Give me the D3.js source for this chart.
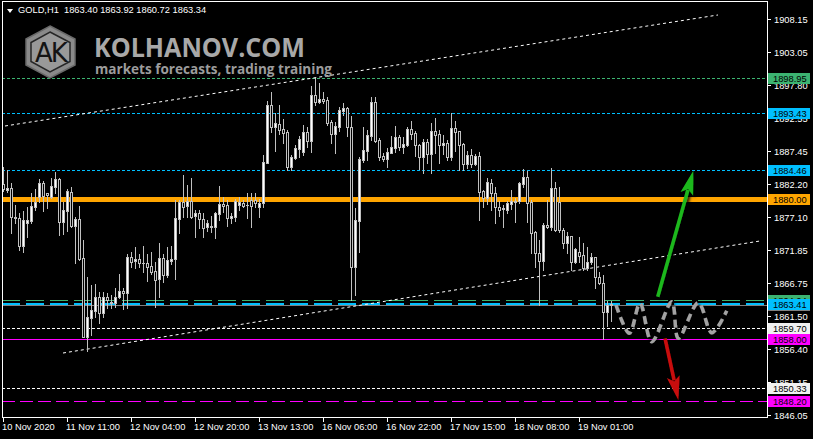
<!DOCTYPE html>
<html><head><meta charset="utf-8">
<script src="https://cdn.jsdelivr.net/npm/d3@7"></script>
<style>html,body{margin:0;padding:0;background:#000;overflow:hidden}svg{display:block}</style>
</head><body>
<svg id="chart" width="813" height="439"></svg>
<script>
// ---------- DATA ----------
const symbolTitle = "GOLD,H1";
const lastOHLC = ["1863.40", "1863.92", "1860.72", "1863.34"];
const opens = [1882.28,1881.34,1881.60,1877.05,1876.95,1872.55,1876.21,1876.53,1878.72,1880.19,
1882.49,1880.81,1880.29,1881.86,1883.01,1876.37,1878.09,1881.07,1875.69,1876.74,
1870.62,1858.34,1861.21,1862.41,1864.61,1862.10,1864.61,1863.56,1863.56,1864.50,
1865.55,1865.13,1870.88,1870.20,1870.52,1869.94,1869.84,1869.42,1868.69,1867.33,
1870.62,1868.01,1870.25,1870.46,1876.74,1879.51,1878.83,1879.66,1877.26,1877.78,
1876.73,1875.48,1875.48,1875.59,1877.57,1879.14,1878.98,1876.89,1877.15,1878.98,
1879.24,1878.98,1879.77,1879.77,1878.72,1879.24,1885.62,1894.66,1891.27,1891.68,
1890.85,1890.48,1884.99,1886.30,1887.71,1887.35,1890.48,1889.07,1896.23,1895.19,
1895.55,1895.45,1892.05,1890.12,1891.27,1893.77,1894.14,1891.27,1869.21,1876.53,
1886.04,1887.50,1889.80,1895.19,1889.17,1886.67,1886.14,1887.19,1887.87,1889.59,
1888.13,1888.39,1890.84,1890.32,1888.39,1886.56,1888.91,1886.98,1890.58,1890.11,
1888.39,1888.75,1886.56,1891.00,1890.63,1888.49,1885.41,1886.82,1885.41,1886.66,
1881.17,1880.02,1882.48,1880.91,1878.72,1878.46,1878.20,1879.14,1879.66,1879.66,
1882.27,1883.32,1879.51,1874.80,1871.51,1870.25,1875.85,1875.60,1881.60,1879.50,
1875.06,1872.97,1874.12,1870.10,1871.67,1871.14,1869.05,1870.10,1870.78,1867.75,
1866.70,1862.26,1863.40];
const highs = [1884.99,1884.47,1882.49,1878.98,1877.68,1878.09,1878.72,1880.81,1881.44,1883.01,
1882.80,1880.92,1883.17,1884.21,1883.17,1879.51,1881.44,1881.75,1877.15,1878.83,
1873.50,1867.75,1866.44,1866.60,1865.39,1865.39,1865.13,1864.87,1865.92,1868.16,
1865.92,1871.30,1871.67,1872.35,1871.30,1872.55,1871.25,1871.67,1870.10,1873.08,
1871.30,1872.45,1872.55,1879.77,1879.77,1883.69,1882.12,1883.17,1878.20,1878.20,
1877.68,1876.63,1877.26,1877.94,1881.96,1880.29,1879.77,1877.68,1879.87,1880.19,
1879.77,1880.92,1880.81,1880.92,1879.87,1886.82,1895.34,1896.65,1893.36,1894.66,
1892.42,1890.74,1886.82,1888.39,1889.80,1891.53,1891.27,1897.64,1898.85,1898.17,
1896.75,1895.97,1892.31,1892.05,1894.40,1895.03,1894.40,1892.94,1878.46,1886.56,
1891.27,1890.74,1895.87,1895.87,1889.44,1887.19,1887.87,1889.80,1891.37,1889.96,
1889.70,1891.26,1892.20,1890.63,1888.54,1889.28,1889.28,1891.79,1892.57,1890.74,
1889.96,1889.17,1893.35,1892.20,1890.63,1888.65,1887.50,1887.71,1886.98,1887.34,
1881.33,1883.16,1883.00,1881.85,1879.66,1878.98,1879.66,1881.33,1880.02,1882.64,
1884.57,1884.36,1879.76,1874.90,1873.49,1876.10,1879.77,1884.73,1882.64,1881.75,
1875.32,1874.80,1874.12,1872.19,1873.91,1872.97,1872.45,1871.40,1870.88,1868.53,
1868.01,1863.98,1863.92];
const lows = [1881.23,1881.07,1874.54,1876.11,1871.93,1871.67,1874.02,1876.11,1878.20,1879.51,
1878.09,1878.46,1880.03,1880.81,1874.28,1874.44,1874.96,1875.59,1869.94,1870.36,
1858.23,1856.14,1858.60,1861.47,1860.53,1861.47,1862.78,1862.78,1863.04,1864.35,
1862.62,1862.78,1869.31,1869.05,1869.21,1868.53,1867.12,1868.16,1863.04,1864.61,
1866.96,1867.64,1869.73,1867.33,1874.54,1877.15,1877.15,1876.89,1874.02,1875.32,
1874.02,1874.96,1874.80,1873.76,1876.63,1877.94,1875.74,1876.21,1876.53,1878.20,
1878.72,1876.89,1875.59,1878.72,1877.05,1878.72,1885.52,1890.48,1887.50,1890.12,
1888.65,1884.47,1884.47,1886.14,1886.46,1886.82,1888.13,1887.35,1894.66,1895.03,
1894.92,1891.53,1888.76,1887.19,1890.64,1893.10,1889.80,1864.08,1864.87,1871.66,
1885.78,1886.04,1889.17,1888.91,1886.04,1885.93,1884.89,1887.08,1887.35,1887.61,
1887.19,1888.23,1889.28,1886.66,1884.57,1884.05,1885.51,1884.05,1887.08,1885.62,
1886.98,1886.03,1886.03,1887.50,1884.47,1884.47,1884.73,1884.99,1885.25,1876.63,
1878.61,1879.14,1878.20,1876.21,1877.25,1875.48,1877.67,1878.30,1876.37,1879.24,
1881.85,1876.37,1871.40,1869.31,1863.30,1868.79,1875.32,1875.06,1874.95,1874.80,
1872.19,1871.40,1868.79,1869.84,1870.10,1868.79,1868.79,1869.73,1865.92,1866.60,
1857.92,1860.01,1860.72];
const closes = [1881.44,1881.60,1877.05,1876.95,1872.55,1876.63,1876.63,1878.83,1879.51,1882.49,
1880.40,1880.55,1881.96,1883.01,1876.37,1878.20,1881.23,1875.69,1876.74,1870.46,
1858.34,1861.47,1862.52,1864.61,1862.10,1864.61,1864.09,1863.82,1864.61,1865.55,
1865.13,1870.88,1870.10,1870.52,1869.84,1869.90,1869.31,1868.53,1867.22,1870.62,
1868.01,1870.36,1870.57,1876.89,1879.51,1878.72,1879.66,1877.15,1877.78,1876.74,
1875.32,1876.11,1875.69,1877.68,1879.14,1878.83,1876.89,1877.26,1879.66,1879.51,
1878.83,1878.95,1878.83,1879.24,1879.35,1885.78,1894.66,1891.16,1891.89,1890.74,
1890.33,1884.99,1886.46,1887.87,1889.28,1890.48,1889.07,1896.23,1895.19,1895.55,
1895.34,1891.89,1890.12,1891.37,1893.88,1894.25,1891.27,1869.21,1876.63,1886.14,
1887.61,1889.96,1895.19,1889.07,1886.56,1886.14,1887.35,1888.03,1889.70,1888.03,
1888.54,1890.84,1890.11,1888.39,1886.56,1888.91,1886.98,1890.58,1889.96,1888.39,
1888.75,1886.56,1891.00,1890.48,1888.39,1885.41,1886.82,1885.41,1886.66,1881.07,
1880.02,1882.64,1880.81,1878.72,1878.20,1878.30,1879.24,1879.66,1879.50,1882.48,
1883.32,1879.34,1874.65,1871.51,1870.25,1875.85,1875.60,1881.60,1875.06,1875.06,
1872.97,1874.12,1870.10,1872.03,1870.99,1869.05,1870.10,1870.78,1867.75,1866.70,
1862.26,1863.30,1863.34];

const timeTickBars = [0,16,32,48,64,80,96,112,128,144];
const timeTickLabels = ["10 Nov 2020","11 Nov 11:00","12 Nov 04:00","12 Nov 20:00","13 Nov 13:00",
  "16 Nov 06:00","16 Nov 22:00","17 Nov 15:00","18 Nov 08:00","19 Nov 01:00"];
const priceTicks = [1908.15,1903.05,1897.80,1892.55,1887.45,1882.20,1877.10,1871.85,1866.75,1861.50,1856.40,1851.15,1846.05];

// horizontal levels (drawn in this order)
const levelNames  = ["g1","b1","b2","orange","g2","bid","b3","w1","m1","w2","m2"];
const levelPrices = [1898.95,1893.43,1884.46,1880.00,1864.04,1863.34,1863.41,1859.70,1858.00,1850.33,1848.20];

// trend lines (bar index, price)
const upperTrendBars = [0.5, 178.75];
const upperTrendPrices = [1891.37, 1908.78];
const lowerTrendBars = [15, 189.25];
const lowerTrendPrices = [1855.77, 1873.34];

// forecast wave (bar index, price)
const waveBars   = [153.25,156.58,159.25,162.18,167.18,168.83,173.83,177.18,180.93];
const wavePrices = [1863.30,1858.86,1863.57,1857.55,1863.82,1858.08,1863.66,1858.96,1862.41];

// arrows: [tail, tip]
const upArrowBars = [163.68, 172.58];
const upArrowPrices = [1864.60, 1884.36];
const downArrowBars = [165.5, 168.83];
const downArrowPrices = [1858.08, 1848.40];

// ---------- STYLES ----------
const levelStyle = {
  g1:{c:"#3cb371",w:1,d:"3,2",lbl:"#3cb371"},
  b1:{c:"#00bfff",w:1,d:"3,2",lbl:"#00bfff"},
  b2:{c:"#00bfff",w:1,d:"3,2",lbl:"#00bfff"},
  orange:{c:"#ffa500",w:5,d:null,lbl:"#ffa500"},
  g2:{c:"#3cb371",w:1,d:"18,6",lbl:"#3cb371"},
  bid:{c:"#808080",w:1,d:null,lbl:"#808080"},
  b3:{c:"#00bfff",w:2,d:"18,6",lbl:"#00bfff"},
  w1:{c:"#ffffff",w:1,d:"3,2",lbl:"#f0f0f0"},
  m1:{c:"#ff00ff",w:1,d:null,lbl:"#ff00ff"},
  w2:{c:"#ffffff",w:1,d:"3,2",lbl:"#f0f0f0"},
  m2:{c:"#ff00ff",w:1,d:"13,5",lbl:"#ff00ff"}
};
const FONT = "'Liberation Sans', Arial, sans-serif";
const FS = "9.3px";
const L = 2, R = 767, T = 1, B = 417;

// ---------- SCALES ----------
const svg = d3.select("#chart");
const x = d3.scaleLinear().domain([0,152]).range([3,611]);
const y = d3.scaleLinear().domain([1846.05,1908.15]).range([415,19]);
const px = v => Math.round(x(v));
const py = v => Math.round(y(v));

svg.append("rect").attr("width",813).attr("height",439).attr("fill","#000");

const defs = svg.append("defs");
const f = defs.append("filter").attr("id","sh").attr("x","-20%").attr("y","-20%").attr("width","140%").attr("height","140%");
f.append("feDropShadow").attr("dx",2).attr("dy",2).attr("stdDeviation",1.5).attr("flood-color","#000").attr("flood-opacity",0.9);
defs.append("clipPath").attr("id","plot").append("rect").attr("x",L).attr("y",T).attr("width",R-L).attr("height",B-T);

const plot = svg.append("g").attr("clip-path","url(#plot)");

// ---------- LEVEL LINES ----------
levelPrices.forEach((p,k) => {
  const s = levelStyle[levelNames[k]];
  const yy = s.w % 2 === 1 ? py(p)+0.5 : py(p);
  plot.append("line").attr("x1",L).attr("x2",R).attr("y1",yy).attr("y2",yy)
    .attr("stroke",s.c).attr("stroke-width",s.w).attr("stroke-dasharray",s.d);
});

// ---------- TREND LINES ----------
const lineGen = d3.line().x(d=>x(d[0])).y(d=>y(d[1]));
[[upperTrendBars,upperTrendPrices],[lowerTrendBars,lowerTrendPrices]].forEach(([bs,ps]) => {
  plot.append("path").attr("d", lineGen(bs.map((b,i)=>[b,ps[i]])))
    .attr("fill","none").attr("stroke","#ffffff").attr("stroke-width",1).attr("stroke-dasharray","3,3");
});

// ---------- CANDLES ----------
const grey = "#c0c0c0";
const cg = plot.append("g");
opens.forEach((o,i) => {
  const h = highs[i], l = lows[i], c = closes[i];
  const cx = px(i);
  const yH = py(h), yL = py(l), yO = py(o), yC = py(c);
  cg.append("rect").attr("x",cx).attr("y",yH).attr("width",1).attr("height",yL-yH+1).attr("fill",grey);
  const top = Math.min(yO,yC), bot = Math.max(yO,yC);
  cg.append("rect").attr("x",cx-1).attr("y",top).attr("width",3).attr("height",bot-top+1).attr("fill",grey);
  if (bot-top >= 2) {
    cg.append("rect").attr("x",cx).attr("y",top+1).attr("width",1).attr("height",bot-top-1)
      .attr("fill", c >= o ? "#ffffff" : "#000000");
  }
});

// ---------- FORECAST WAVE ----------
const waveGen = d3.line().x(d=>x(d[0])).y(d=>y(d[1])).curve(d3.curveCatmullRom.alpha(0.5));
plot.append("path").attr("d", waveGen(waveBars.map((b,i)=>[b,wavePrices[i]])))
  .attr("fill","none").attr("stroke","#a3a3a3").attr("stroke-width",3.5)
  .attr("stroke-dasharray","8,5").attr("filter","url(#sh)");

// ---------- ARROWS ----------
function arrow(bs, ps, color){
  const x0 = x(bs[0]), y0 = y(ps[0]), x1 = x(bs[1]), y1 = y(ps[1]);
  const dx = x1-x0, dy = y1-y0, len = Math.hypot(dx,dy);
  const ux = dx/len, uy = dy/len, nx = -uy, ny = ux;
  const hl = 24, hw = 6.5;
  const bx = x1 - ux*hl, by = y1 - uy*hl;
  const g = plot.append("g").attr("filter","url(#sh)");
  g.append("line").attr("x1",x0).attr("y1",y0).attr("x2",bx+ux*4).attr("y2",by+uy*4)
    .attr("stroke",color).attr("stroke-width",3.5);
  g.append("path").attr("d",`M${x1},${y1}L${bx+nx*hw},${by+ny*hw}L${bx+ux*5},${by+uy*5}L${bx-nx*hw},${by-ny*hw}Z`)
    .attr("fill",color);
}
arrow(upArrowBars, upArrowPrices, "#1fb81f");
arrow(downArrowBars, downArrowPrices, "#c80d0d");

// ---------- LOGO ----------
const logo = svg.append("g");
const hexOuter = [[50,26],[75,39],[75,65],[50,78],[26,65],[26,39]];
const hexInner = [[50,32],[70,42.5],[70,61.5],[50,72],[31,61.5],[31,42.5]];
logo.append("path").attr("d","M"+hexOuter.join("L")+"Z").attr("fill","#8a8a8a").attr("stroke","#6a6a6a").attr("stroke-width",1.5);
logo.append("path").attr("d","M"+hexInner.join("L")+"Z").attr("fill","#999999").attr("stroke","#262626").attr("stroke-width",1.5);
logo.append("text").attr("x",50.5).attr("y",62).attr("text-anchor","middle")
  .attr("font-family","'DejaVu Sans', sans-serif").attr("font-size","26px").attr("letter-spacing","-2")
  .attr("fill","#141414").text("AK");
logo.append("text").attr("x",94).attr("y",57).attr("font-family","'Open Sans', sans-serif").attr("font-weight",700)
  .attr("font-size","27px").attr("fill","#a8a8a8").attr("textLength",211).attr("lengthAdjust","spacingAndGlyphs").text("KOLHANOV.COM");
logo.append("text").attr("x",95).attr("y",74).attr("font-family","'Open Sans', sans-serif").attr("font-weight",700)
  .attr("font-size","15px").attr("fill","#9c9c9c").attr("textLength",237).attr("lengthAdjust","spacingAndGlyphs").text("markets forecasts, trading training");

// ---------- FRAME ----------
svg.append("rect").attr("x",L+0.5).attr("y",T+0.5).attr("width",R-L).attr("height",B-T)
  .attr("fill","none").attr("stroke","#ffffff").attr("stroke-width",1);

// ---------- PRICE AXIS ----------
const pa = svg.append("g");
priceTicks.forEach(p => {
  const yy = py(p);
  pa.append("line").attr("x1",R+0.5).attr("x2",R+4).attr("y1",yy+0.5).attr("y2",yy+0.5).attr("stroke","#fff");
  pa.append("text").attr("x",774).attr("y",yy+4).attr("font-family",FONT).attr("font-size",FS)
    .attr("fill","#ffffff").text(p.toFixed(2));
});

// level labels
levelPrices.forEach((p,k) => {
  const s = levelStyle[levelNames[k]];
  const yy = py(p);
  pa.append("rect").attr("x",768).attr("y",yy-5).attr("width",42).attr("height",11).attr("fill",s.lbl);
  pa.append("text").attr("x",773).attr("y",yy+4).attr("font-family",FONT).attr("font-size",FS)
    .attr("fill","#000").text(p.toFixed(2));
});

// ---------- TIME AXIS ----------
const ta = svg.append("g");
timeTickBars.forEach((b,k) => {
  const xx = px(b);
  ta.append("line").attr("x1",xx+0.5).attr("x2",xx+0.5).attr("y1",B).attr("y2",B+5).attr("stroke","#fff");
  ta.append("text").attr("x",xx-1).attr("y",430).attr("font-family",FONT).attr("font-size",FS)
    .attr("fill","#ffffff").text(timeTickLabels[k]);
});

// ---------- HEADER ----------
svg.append("path").attr("d","M7,9L13,9L10,13Z").attr("fill","#fff");
svg.append("text").attr("x",18).attr("y",13).attr("font-family",FONT).attr("font-size",FS)
  .attr("fill","#ffffff").attr("xml:space","preserve")
  .text(symbolTitle + "  " + lastOHLC.join(" "));
</script>
</body></html>
